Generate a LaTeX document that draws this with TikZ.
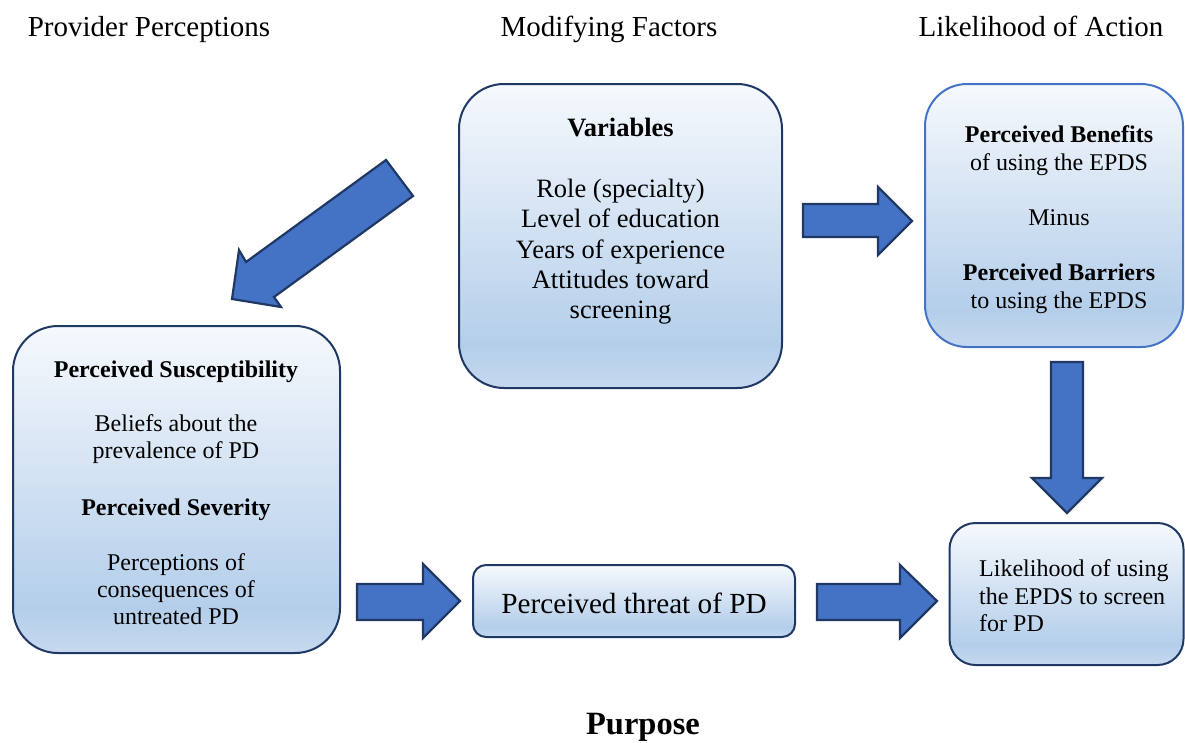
\documentclass[tikz,border=0pt]{standalone}
\usepackage{fontspec}
\setmainfont{Liberation Serif}
\definecolor{navy}{RGB}{31,56,100}
\definecolor{arrfill}{RGB}{68,114,196}
\definecolor{lblue}{RGB}{68,114,196}
\definecolor{bt}{RGB}{246,249,253}
\definecolor{bb}{RGB}{180,206,234}
\definecolor{bb2}{RGB}{198,217,239}
\pgfdeclareverticalshading{boxshade}{100bp}{color(0bp)=(bb2); color(25bp)=(bb2); color(32bp)=(bb); color(75bp)=(bt); color(100bp)=(bt)}
\begin{document}
\begin{tikzpicture}[x=1pt,y=-1pt,
  box/.style={draw=navy, line width=2pt, shading=boxshade, inner sep=0pt},
  arr/.style={draw=navy, line width=2.2pt, fill=arrfill, line join=miter},
  hdr/.style={inner sep=0pt, anchor=base, font=\fontsize{29}{33}\selectfont},
  vtxt/.style={inner sep=0pt, anchor=base, font=\fontsize{26.5}{31}\selectfont},
  stxt/.style={inner sep=0pt, anchor=base, font=\fontsize{24}{28}\selectfont},
]
\useasboundingbox (0,0) rectangle (1185,742);
% headers
\node[hdr] (h1) at (149,36.5) {Provider Perceptions};
\node[hdr] (h2) at (609,36.5) {Modifying Factors};
\node[hdr] (h3) at (1041,36.5) {Likelihood of Action};
% boxes
\node[box, minimum width=323pt, minimum height=304pt, rounded corners=45pt] (var) at (620.5,236) {};
\node[box, draw=lblue, minimum width=258pt, minimum height=263pt, rounded corners=42pt] (ben) at (1054,215.5) {};
\node[box, minimum width=327pt, minimum height=327pt, rounded corners=45pt] (sus) at (176.5,489.5) {};
\node[box, minimum width=322pt, minimum height=72pt, rounded corners=13pt] (thr) at (634,601) {};
\node[box, minimum width=234pt, minimum height=142pt, rounded corners=26pt] (lik) at (1066.5,594) {};
% variables text
\node[vtxt] (v1) at (620.5,136) {\textbf{Variables}};
\node[vtxt] (v2) at (620.5,197) {Role (specialty)};
\node[vtxt] (v3) at (620.5,227.5) {Level of education};
\node[vtxt] (v4) at (620.5,258) {Years of experience};
\node[vtxt] (v5) at (620.5,288) {Attitudes toward};
\node[vtxt] (v6) at (620.5,318) {screening};
% benefits text
\node[stxt] (b1) at (1059,142) {\textbf{Perceived Benefits}};
\node[stxt] (b2) at (1059,170) {of using the EPDS};
\node[stxt] (b3) at (1059,225) {Minus};
\node[stxt] (b4) at (1059,280) {\textbf{Perceived Barriers}};
\node[stxt] (b5) at (1059,308) {to using the EPDS};
% susceptibility text
\node[stxt] (s1) at (176,377) {\textbf{Perceived Susceptibility}};
\node[stxt] (s2) at (176,431) {Beliefs about the};
\node[stxt] (s3) at (176,458) {prevalence of PD};
\node[stxt] (s4) at (176,515) {\textbf{Perceived Severity}};
\node[stxt] (s5) at (176,570) {Perceptions of};
\node[stxt] (s6) at (176,597) {consequences of};
\node[stxt] (s7) at (176,624) {untreated PD};
% threat
\node[inner sep=0pt, anchor=base, font=\fontsize{29.2}{33}\selectfont] (t1) at (634,613.5) {Perceived threat of PD};
% likelihood text
\node[stxt, anchor=base west] (l1) at (979,576) {Likelihood of using};
\node[stxt, anchor=base west] (l2) at (979,604) {the EPDS to screen};
\node[stxt, anchor=base west] (l3) at (979,631) {for PD};
% purpose
\node[inner sep=0pt, anchor=base, font=\fontsize{32.5}{36}\bfseries] (pur) at (643,734.5) {Purpose};
% block arrows
\draw[arr] (386,160) -- (413,196) -- (274,297) -- (281,307) -- (232,299) -- (239,250) -- (246,262) -- cycle;
\draw[arr] (803,204) -- (878,204) -- (878,187) -- (912,221) -- (878,255) -- (878,237) -- (803,237) -- cycle;
\draw[arr] (1051,362) -- (1083,362) -- (1083,478) -- (1102,478) -- (1067,513) -- (1032,478) -- (1051,478) -- cycle;
\draw[arr] (357,584) -- (423,584) -- (423,564) -- (460,601) -- (423,638) -- (423,620) -- (357,620) -- cycle;
\draw[arr] (817,584) -- (900,584) -- (900,565) -- (937,601) -- (900,638) -- (900,620) -- (817,620) -- cycle;
\end{tikzpicture}
\end{document}
